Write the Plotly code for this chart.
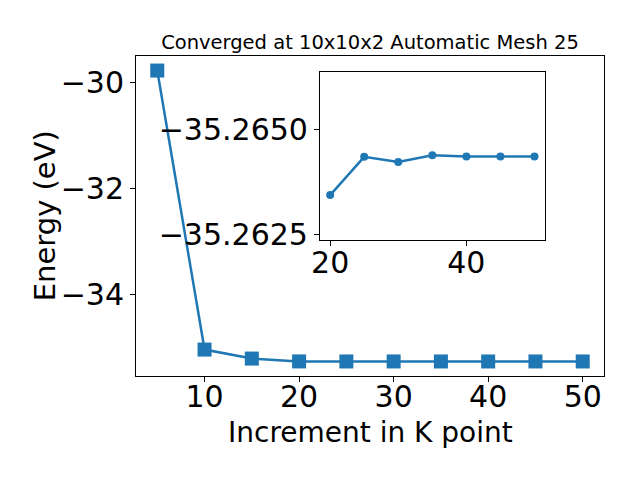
import plotly.graph_objects as go

# Main data
kpoints = [5, 10, 15, 20, 25, 30, 35, 40, 45, 50]
energy = [-29.77, -35.04, -35.21, -35.2635, -35.2644, -35.2642, -35.2644, -35.2644, -35.2644, -35.2644]

# Inset data
inset_k = [20, 25, 30, 35, 40, 45, 50]
inset_energy = [-35.26345, -35.26436, -35.26424, -35.2644, -35.26437, -35.26437, -35.26437]

main_yticks = [-30, -32, -34]
main_yticktext = ["\u221230", "\u221232", "\u221234"]
main_xticks = [10, 20, 30, 40, 50]
inset_xticks = [20, 40]
inset_yticks = [-35.2650, -35.2625]
inset_yticktext = ["\u221235.2650", "\u221235.2625"]

color = "#1f77b4"
font = "DejaVu Sans"

fig = go.Figure()
fig.add_trace(go.Scatter(x=kpoints, y=energy, mode="lines+markers",
                         line=dict(color=color, width=2.5),
                         marker=dict(symbol="square", size=14, color=color),
                         xaxis="x", yaxis="y", showlegend=False))
fig.add_trace(go.Scatter(x=inset_k, y=inset_energy, mode="lines+markers",
                         line=dict(color=color, width=2.5),
                         marker=dict(symbol="circle", size=8, color=color),
                         xaxis="x2", yaxis="y2", showlegend=False))

axis_common = dict(showgrid=False, zeroline=False, showline=True, linecolor="black",
                   linewidth=1, mirror=True, ticks="outside", ticklen=5, tickwidth=1,
                   tickcolor="black", tickfont=dict(family=font, size=30, color="black"))

fig.update_layout(
    width=640, height=480,
    margin=dict(l=128, r=44, t=48, b=112),
    paper_bgcolor="white", plot_bgcolor="white",
    font=dict(family=font, color="black"),
    xaxis=dict(domain=[0, 1], range=[2.75, 52.25], tickvals=main_xticks,
               ticklabelstandoff=-11, **axis_common),
    yaxis=dict(domain=[0, 1], range=[-35.539, -29.495], tickvals=main_yticks,
               ticktext=main_yticktext, **axis_common),
    xaxis2=dict(domain=[0.393, 0.8733], range=[18.5, 51.5], tickvals=inset_xticks,
                anchor="y2", ticklabelstandoff=-9, **axis_common),
    yaxis2=dict(domain=[0.425, 0.95], range=[-35.26238, -35.26638], tickvals=inset_yticks,
                ticktext=inset_yticktext, anchor="x2", **axis_common),
    title=dict(text="Converged at 10x10x2 Automatic Mesh 25", x=0.5, xref="paper",
               y=1 - 34 / 480, yref="container", yanchor="middle", xanchor="center",
               font=dict(family=font, size=19.5, color="black")),
    annotations=[
        dict(text="Increment in K point", xref="paper", yref="paper", x=0.5, y=-0.175,
             showarrow=False, xanchor="center", yanchor="middle",
             font=dict(family=font, size=28, color="black")),
        dict(text="Energy (eV)", xref="paper", yref="paper", x=-0.194, y=0.5,
             showarrow=False, xanchor="center", yanchor="middle", textangle=-90,
             font=dict(family=font, size=29, color="black")),
    ],
)

fig.write_html("out.html")
